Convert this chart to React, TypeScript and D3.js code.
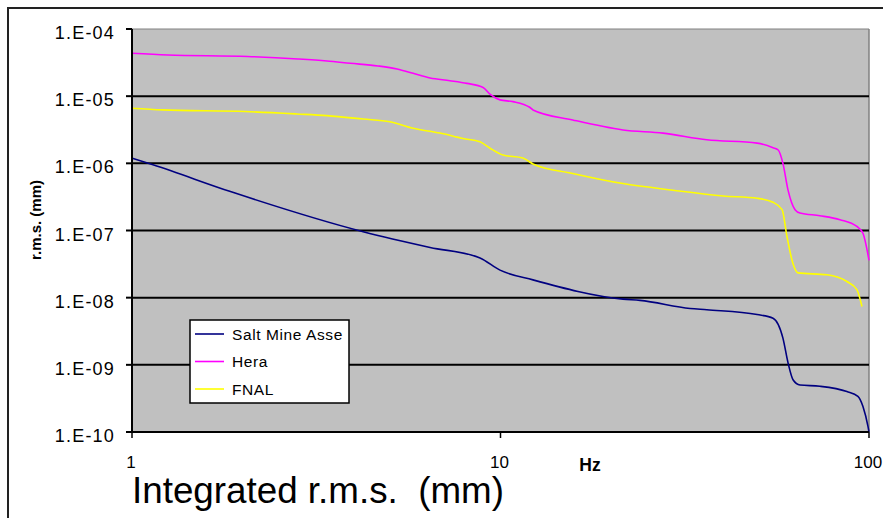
import React from "react";
import * as d3 from "d3";

const heraFreq = [1, 1.25, 2.06, 2.82, 3.38, 3.91, 4.65, 5.24, 5.79, 6.44, 7.29, 8.11, 8.97, 9.4, 9.97, 10.81, 12.0, 12.25, 15.7, 21.5, 27.6, 36.3, 49.7, 54.9, 56.7, 58.4, 60.3, 63.0, 65.0, 73.6, 83.4, 92.7, 96.3, 100];
const heraVals = [4.35e-5, 4.1e-5, 3.9e-5, 3.58e-5, 3.34e-5, 3.09e-5, 2.82e-5, 2.54e-5, 2.19e-5, 1.86e-5, 1.7e-5, 1.55e-5, 1.35e-5, 1.05e-5, 8.8e-6, 8.3e-6, 6.84e-6, 6.24e-6, 4.43e-6, 3.14e-6, 2.82e-6, 2.24e-6, 2.0e-6, 1.71e-6, 1.58e-6, 1.0e-6, 4.0e-7, 2.04e-7, 1.82e-7, 1.66e-7, 1.45e-7, 1.15e-7, 9.1e-8, 3.6e-8];

const fnalFreq = [1, 1.21, 2.03, 2.8, 3.38, 4.24, 5.01, 5.79, 6.85, 7.91, 8.8, 9.37, 10.16, 11.5, 12.25, 15.7, 21.5, 29.4, 40.2, 49.7, 54.9, 58.1, 59.9, 62.2, 64.2, 76.9, 87.1, 92.7, 95.7];
const fnalVals = [6.6e-6, 6.24e-6, 5.9e-6, 5.43e-6, 5.13e-6, 4.57e-6, 4.17e-6, 3.33e-6, 2.82e-6, 2.34e-6, 2.09e-6, 1.68e-6, 1.33e-6, 1.2e-6, 9.8e-7, 7.08e-7, 5.0e-7, 3.98e-7, 3.27e-7, 3.02e-7, 2.63e-7, 2.04e-7, 8.1e-8, 3.2e-8, 2.34e-8, 2.19e-8, 1.74e-8, 1.32e-8, 7.4e-9];

const asseFreq = [1, 1.14, 1.85, 4.24, 6.44, 8.8, 9.97, 12.25, 21.5, 23.9, 32.7, 36.3, 49.7, 54.9, 58.4, 60.3, 62.2, 65.0, 73.6, 87.1, 93.3, 96.3, 99.4, 100];
const asseVals = [1.19e-6, 9.5e-7, 3.8e-7, 9.6e-8, 5.6e-8, 3.9e-8, 2.57e-8, 1.84e-8, 9.5e-9, 9.1e-9, 6.9e-9, 6.6e-9, 5.6e-9, 4.95e-9, 2.5e-9, 1.07e-9, 6.0e-10, 5.0e-10, 4.8e-10, 4.0e-10, 3.4e-10, 2.4e-10, 1.2e-10, 1.0e-10];

const seriesNames = ["Salt Mine Asse", "Hera", "FNAL"];
const seriesColors = ["#000080", "#ff00ff", "#ffff00"];
const yTickValues = [1e-4, 1e-5, 1e-6, 1e-7, 1e-8, 1e-9, 1e-10];
const yTickLabels = ["1.E-04", "1.E-05", "1.E-06", "1.E-07", "1.E-08", "1.E-09", "1.E-10"];
const xTickValues = [1, 10, 100];
const xTickLabels = ["1", "10", "100"];

const W = 883;
const H = 518;
const left = 132, right = 869, top = 29, bottom = 432;

export default function App() {
  const x = d3.scaleLog().domain([1, 100]).range([left, right]);
  const y = d3.scaleLog().domain([1e-10, 1e-4]).range([bottom, top]);
  const line = d3
    .line<[number, number]>()
    .x((d) => x(d[0]))
    .y((d) => y(d[1]))
    .curve(d3.curveMonotoneX);

  const series = [
    { f: asseFreq, v: asseVals },
    { f: heraFreq, v: heraVals },
    { f: fnalFreq, v: fnalVals },
  ];
  const font = "'Liberation Sans', Arial, sans-serif";

  return (
    <svg
      width={W}
      height={H}
      style={{ position: "absolute", left: 0, top: 0, background: "#fff" }}
      fontFamily={font}
    >
      <rect x={0} y={0} width={W} height={H} fill="#fff" />
      <rect x={8} y={8} width={W + 20} height={H + 20} fill="none" stroke="#222" strokeWidth={2} />
      <rect x={left} y={top} width={right - left} height={bottom - top} fill="#c0c0c0" />
      <line x1={left} x2={right} y1={top} y2={top} stroke="#808080" strokeWidth={1} />
      <line x1={right} x2={right} y1={top} y2={bottom} stroke="#808080" strokeWidth={1.5} />
      {yTickValues.slice(1, -1).map((t) => (
        <line key={t} x1={left} x2={right} y1={y(t)} y2={y(t)} stroke="#000" strokeWidth={2} />
      ))}
      {series.map((s, i) => (
        <path
          key={i}
          d={line(s.f.map((f, j) => [f, s.v[j]] as [number, number])) || ""}
          fill="none"
          stroke={seriesColors[i]}
          strokeWidth={1.6}
        />
      ))}
      <line x1={left} x2={left} y1={top} y2={bottom + 1} stroke="#000" strokeWidth={2} />
      <line x1={left - 1} x2={right} y1={bottom} y2={bottom} stroke="#000" strokeWidth={2} />
      {yTickValues.map((t, i) => (
        <g key={t}>
          <line x1={left - 6} x2={left} y1={y(t)} y2={y(t)} stroke="#000" strokeWidth={2} />
          <text x={115} y={y(t) + 10} textAnchor="end" fontSize={18} letterSpacing={1.2}>
            {yTickLabels[i]}
          </text>
        </g>
      ))}
      {xTickValues.map((t, i) => (
        <g key={t}>
          <line x1={x(t)} x2={x(t)} y1={bottom} y2={bottom + 6} stroke="#000" strokeWidth={1.5} />
          <text x={x(t) - 1} y={468} textAnchor="middle" fontSize={17}>
            {xTickLabels[i]}
          </text>
        </g>
      ))}
      <text x={590} y={471} textAnchor="middle" fontSize={17.5} fontWeight="bold">
        Hz
      </text>
      <text
        x={132}
        y={503}
        fontSize={37}
        textLength={372}
        lengthAdjust="spacingAndGlyphs"
        style={{ whiteSpace: "pre" }}
      >
        {"Integrated r.m.s.  (mm)"}
      </text>
      <text
        transform="translate(41,180) rotate(-90)"
        textAnchor="end"
        fontSize={15}
        fontWeight="bold"
      >
        r.m.s. (mm)
      </text>
      <g>
        <rect x={190} y={320} width={159} height={83} fill="#fff" stroke="#000" strokeWidth={1.5} />
        {seriesNames.map((n, i) => (
          <g key={n}>
            <line x1={195} x2={224} y1={334 + i * 27.5} y2={334 + i * 27.5} stroke={seriesColors[i]} strokeWidth={1.6} />
            <text x={232} y={334 + i * 27.5 + 5.5} fontSize={15.5} letterSpacing={0.6}>
              {n}
            </text>
          </g>
        ))}
      </g>
    </svg>
  );
}
